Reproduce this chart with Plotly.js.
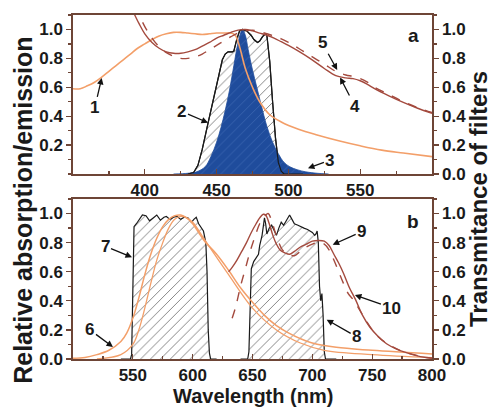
<!DOCTYPE html>
<html><head><meta charset="utf-8">
<script src="https://cdn.plot.ly/plotly-3.0.1.min.js"></script>
<style>html,body{margin:0;padding:0;background:#fff}#chart{width:493px;height:407px}</style>
</head><body><div id="chart"></div>
<script>
// ---- Panel a ----
const wl1 = [350,355,360,365,370,375,380,385,390,395,400,405,410,415,420,425,430,435,440,445,450,455,460,463,466,470,475,480,487,495,507,520,535,550,565,580,600];
const c1  = [0.59,0.59,0.61,0.635,0.67,0.71,0.75,0.79,0.83,0.87,0.90,0.93,0.955,0.97,0.98,0.98,0.975,0.97,0.965,0.97,0.975,0.975,0.975,0.96,0.88,0.73,0.60,0.50,0.41,0.36,0.31,0.27,0.23,0.195,0.165,0.145,0.12];

const wl2 = [430,434,437,440,444,447,450,452,454,456,458,461,462,464,466,468,471,474,476,478.5,480,482,484,485,486,487,489,491,493,495,497,510];
const f2  = [0,0.01,0.06,0.17,0.35,0.48,0.60,0.70,0.79,0.83,0.845,0.845,0.85,0.93,0.99,1.0,0.99,0.96,0.93,0.91,0.92,0.95,0.97,0.96,0.88,0.78,0.50,0.25,0.08,0.02,0,0];

const wl3 = [420,430,436,442,446,450,453,456,459,462,465,468,470,472,475,478,481,485,489,493,497,501,506,512,520,528];
const e3  = [0,0.005,0.015,0.05,0.12,0.22,0.32,0.44,0.58,0.75,0.91,1.0,0.96,0.86,0.72,0.60,0.48,0.33,0.22,0.14,0.08,0.05,0.03,0.015,0.005,0];

const wl4 = [390,393,396,400,405,410,415,420,425,430,435,440,445,450,455,460,465,470,475,480,485,490,495,500,507,515,525,533,540,545,550,555,560,570,580,590,600];
const c4  = [1.16,1.1,1.04,0.97,0.91,0.87,0.845,0.835,0.835,0.845,0.86,0.885,0.91,0.94,0.96,0.98,0.995,1.0,0.99,0.975,0.96,0.94,0.915,0.89,0.85,0.80,0.73,0.68,0.665,0.66,0.645,0.62,0.59,0.54,0.495,0.455,0.42];

const wl5 = [393,396,400,405,410,415,420,425,430,435,440,445,450,455,460,465,470,475,480,485,490,495,500,507,515,525,533,540,545,550,555,560,570,580,590,600];
const c5  = [1.16,1.1,1.02,0.94,0.88,0.84,0.815,0.80,0.80,0.81,0.83,0.86,0.89,0.92,0.95,0.975,0.99,0.995,0.985,0.97,0.955,0.935,0.91,0.87,0.82,0.76,0.71,0.685,0.675,0.66,0.635,0.60,0.55,0.50,0.46,0.425];

// ---- Panel b ----
const wl6a = [500,510,520,530,540,545,550,555,560,565,570,575,580,585,590,595,600,605,610,620,630,640,650,660,670,680,690,700,720,750,800];
const c6a  = [0.005,0.01,0.03,0.06,0.12,0.18,0.28,0.42,0.58,0.72,0.83,0.91,0.96,0.985,0.99,0.97,0.93,0.87,0.81,0.72,0.61,0.49,0.39,0.30,0.23,0.18,0.14,0.11,0.08,0.06,0.035];

const wl6b = [520,540,550,555,560,565,570,575,580,585,590,595,600,610,630,650,670,690,710,750,800];
const c6b  = [0,0.03,0.10,0.20,0.35,0.52,0.68,0.80,0.90,0.96,0.98,0.97,0.94,0.82,0.58,0.35,0.20,0.11,0.06,0.03,0.01];

const wl7 = [540,548,549,550,551,553,556,558,561,564,567,570,573,576,578,581,584,587,590,593,596,599,601,603,605,607,609,611,612,613,614,615,620];
const f7  = [0,0,0.03,0.5,0.91,0.93,0.97,0.99,0.985,0.95,0.97,0.99,0.955,0.975,0.98,0.96,0.975,0.98,0.96,0.975,0.97,0.94,0.96,0.975,0.93,0.90,0.88,0.80,0.60,0.20,0.04,0,0];

const wl8 = [640,646,647,648,649,651,653,655,656,658,660,661,662,664,666,668,670,672,674,676,678,681,683,685,688,690,693,696,698,700,702,703,704,705,706,707,708,709,710,711,720];
const f8  = [0,0,0.05,0.40,0.62,0.67,0.70,0.72,0.78,0.85,0.97,0.93,0.86,0.90,0.92,0.88,0.85,0.90,0.94,0.92,0.95,0.99,0.96,0.93,0.92,0.91,0.90,0.89,0.88,0.87,0.85,0.86,0.88,0.80,0.50,0.40,0.45,0.30,0.05,0,0];

const wl9 = [630,633,637,641,645,649,653,656,659,661,664,667,670,673,677,681,685,690,695,700,705,710,714,718,722,726,731,736,742,748,755,762,770,778,786,795,800];
const c9  = [0.60,0.63,0.68,0.74,0.80,0.87,0.93,0.97,0.995,0.99,0.93,0.85,0.79,0.75,0.73,0.72,0.74,0.77,0.79,0.81,0.815,0.81,0.78,0.72,0.66,0.59,0.49,0.41,0.30,0.22,0.155,0.105,0.07,0.045,0.025,0.01,0.005];

const wl10 = [633,636,640,644,648,652,656,660,663,666,669,672,675,680,685,690,695,700,705,710,714,718,722,726,730,734,740,746,752,760,768,776,785,795,800];
const c10  = [0.28,0.36,0.50,0.62,0.74,0.84,0.93,0.98,1.0,0.95,0.87,0.80,0.75,0.72,0.71,0.74,0.77,0.79,0.80,0.79,0.75,0.68,0.60,0.52,0.45,0.41,0.33,0.25,0.18,0.12,0.08,0.05,0.03,0.01,0.005];

const ticksA = [400,450,500,550];
const ticksB = [550,600,650,700,750,800];

const ORANGE = '#f39f69', BROWN = '#a44a3e', FRAME = '#6e4536', BLUE = '#1f4c9c';
const hatch = {shape:'/', size:7, solidity:0.1, fgcolor:'#555', bgcolor:'#ffffff'};

// Filters are drawn on the left-axis layer (same 0–1.1 scale as the right "transmittance" axis) so stacking order is kept.
const traces = [
  {x:wl2, y:f2, xaxis:'x', yaxis:'y', type:'scatter', mode:'lines', fill:'tozeroy', fillpattern:hatch, line:{color:'#1a1a1a', width:1.2}},
  {x:wl3, y:e3, xaxis:'x', yaxis:'y', type:'scatter', mode:'lines', fill:'tozeroy', fillcolor:BLUE,
    fillpattern:{shape:'/', size:7, solidity:0.12, fgcolor:'#3b66b0', bgcolor:BLUE}, line:{color:BLUE, width:0.8, shape:'spline'}},
  {x:wl2, y:f2, xaxis:'x', yaxis:'y', type:'scatter', mode:'lines', line:{color:'#1a1a1a', width:1.2}},
  {x:wl1, y:c1, xaxis:'x', yaxis:'y', type:'scatter', mode:'lines', line:{color:ORANGE, width:1.6, shape:'spline'}},
  {x:wl5, y:c5, xaxis:'x', yaxis:'y', type:'scatter', mode:'lines', line:{color:BROWN, width:1.4, dash:'dash', shape:'spline'}},
  {x:wl4, y:c4, xaxis:'x', yaxis:'y', type:'scatter', mode:'lines', line:{color:BROWN, width:1.4, shape:'spline'}},
  {x:[], y:[], xaxis:'x', yaxis:'y2', type:'scatter', mode:'lines'},

  {x:wl7, y:f7, xaxis:'x2', yaxis:'y3', type:'scatter', mode:'lines', fill:'tozeroy', fillpattern:hatch, line:{color:'#1a1a1a', width:1.2}},
  {x:wl8, y:f8, xaxis:'x2', yaxis:'y3', type:'scatter', mode:'lines', fill:'tozeroy', fillpattern:hatch, line:{color:'#1a1a1a', width:1.2}},
  {x:wl6a, y:c6a, xaxis:'x2', yaxis:'y3', type:'scatter', mode:'lines', line:{color:ORANGE, width:1.5, shape:'spline'}},
  {x:wl6b, y:c6b, xaxis:'x2', yaxis:'y3', type:'scatter', mode:'lines', line:{color:ORANGE, width:1.3, shape:'spline'}},
  {x:wl10, y:c10, xaxis:'x2', yaxis:'y3', type:'scatter', mode:'lines', line:{color:BROWN, width:1.4, dash:'dash', shape:'spline'}},
  {x:wl9, y:c9, xaxis:'x2', yaxis:'y3', type:'scatter', mode:'lines', line:{color:BROWN, width:1.4, shape:'spline'}},
  {x:[], y:[], xaxis:'x2', yaxis:'y4', type:'scatter', mode:'lines'}
];

const FONT = 'Liberation Sans, Arial, sans-serif';
const tf = {family:FONT, size:17, color:'#1a1a1a', weight:700};
function xax(range, vals, anchor){
  return {domain:[0,1], anchor:anchor, range:range, tickmode:'array', tickvals:vals, ticks:'inside', ticklen:5, tickwidth:1.2, tickcolor:FRAME,
    minor:{tick0:range[0], dtick:25, ticks:'inside', ticklen:3, tickcolor:FRAME},
    showline:true, linecolor:FRAME, linewidth:1.6, mirror:true, showgrid:false, zeroline:false, tickfont:tf};
}
function yax(dom, vals, side, overlay, anchor){
  const a = {domain:dom, anchor:anchor, range:[0,1.1], tickmode:'array', tickvals:vals, tickformat:'.1f', ticks:'outside', ticklen:5, tickwidth:1.2, tickcolor:FRAME,
    minor:{tick0:0, dtick:0.1, ticks:'outside', ticklen:3, tickcolor:FRAME},
    showline:true, linecolor:FRAME, linewidth:1.6, showgrid:false, zeroline:false, tickfont:tf, side:side};
  if (overlay) a.overlaying = overlay;
  return a;
}
const dA = [0.5378,1], dB = [0,0.4651];
const layout = {
  width:493, height:407, margin:{l:73, r:61, t:15, b:48}, showlegend:false,
  paper_bgcolor:'#fff', plot_bgcolor:'#fff',
  xaxis: xax([350,600], ticksA, 'y'),
  yaxis: yax(dA, [0.2,0.4,0.6,0.8,1.0], 'left', null, 'x'),
  yaxis2: yax(dA, [0,0.2,0.4,0.6,0.8,1.0], 'right', 'y', 'x'),
  xaxis2: xax([500,800], ticksB, 'y3'),
  yaxis3: yax(dB, [0,0.2,0.4,0.6,0.8,1.0], 'left', null, 'x2'),
  yaxis4: yax(dB, [0,0.2,0.4,0.6,0.8,1.0], 'right', 'y3', 'x2'),
  annotations: []
};
const af = {family:FONT, size:17, color:'#1a1a1a', weight:700};
function arr(txt, xr, yr, x, y, ax, ay){
  return {text:txt, xref:xr, yref:yr, x:x, y:y, ax:ax, ay:ay, showarrow:true, arrowhead:2, arrowsize:1, arrowwidth:1.3, arrowcolor:'#111', font:af, standoff:0};
}
function lab(txt, xr, yr, x, y, size, angle){
  return {text:txt, xref:xr, yref:yr, x:x, y:y, xanchor:'center', yanchor:'middle', textangle:angle||0, showarrow:false,
    font:{family:FONT, size:size, color:'#1a1a1a', weight:700}};
}
layout.annotations.push(
  arr('1','x','y',370,0.665,-7,30),
  arr('2','x','y',444,0.355,-26,-11),
  arr('3','x','y',513.6,0.04,22,-8),
  arr('4','x','y',536,0.668,15,29),
  arr('5','x','y',534,0.72,-15,-27),
  lab('a','x','y',587,0.96,19),
  arr('6','x2','y3',533.4,0.083,-23,-17),
  arr('7','x2','y3',549.3,0.70,-27,-11),
  arr('8','x2','y3',712,0.27,30,17),
  arr('9','x2','y3',717,0.786,29,-13),
  arr('10','x2','y3',735.6,0.44,37,13),
  lab('b','x2','y3',784,0.945,19),
  lab('Relative absorption/emission','paper','paper',-0.14,0.433,25,-90),
  lab('Transmitance of filters','paper','paper',1.128,0.465,24,-90),
  lab('Wavelength (nm)','paper','paper',0.5,-0.107,20)
);
Plotly.newPlot('chart', traces, layout, {staticPlot:true, displayModeBar:false});
</script></body></html>
